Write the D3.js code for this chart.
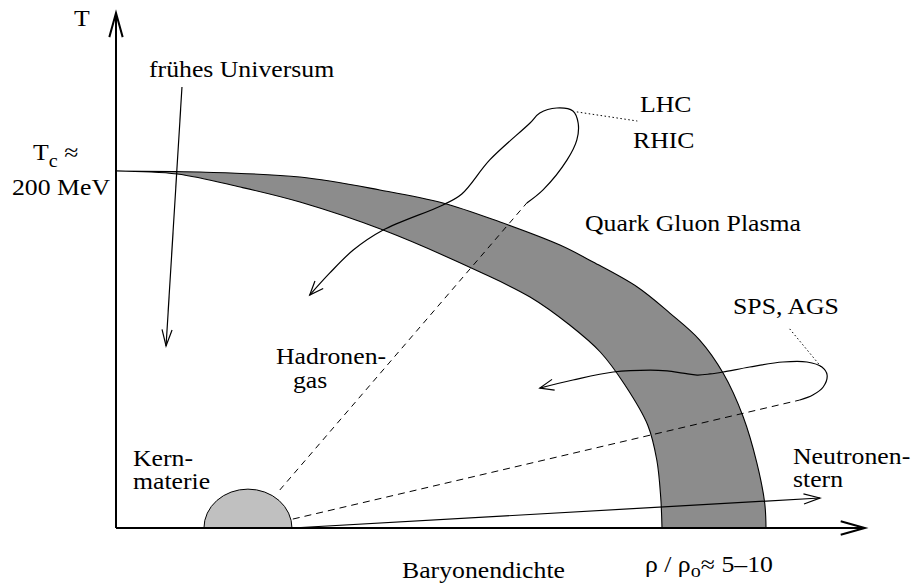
<!DOCTYPE html>
<html>
<head>
<meta charset="utf-8">
<script src="https://cdn.jsdelivr.net/npm/d3@7"></script>
<style>
  body { margin: 0; background: #fff; }
  text { font-family: "Liberation Serif", "Times New Roman", serif; font-size: 23px; fill: #000; }
</style>
</head>
<body>
<div id="chart"></div>
<script>
// ***************************** DATA ******************************************
// points are [rho / rho0 (arbitrary), T in MeV]
var bandUpper = [[0, 200], [1.29, 199.4], [2.83, 196.6], [4.06, 189.4], [5.03, 182.1],
  [5.91, 171.4], [6.83, 158.5], [7.34, 149.0], [8.02, 135.0],
  [8.52, 120.4], [8.98, 105.3], [9.34, 86.8], [9.65, 62.2], [9.86, 36.4],
  [9.98, 14.0], [10.0, 0]];
var bandLower = [[0, 200], [0.94, 198.3], [1.91, 191.0], [2.83, 182.6], [4.11, 166.9],
  [5.60, 143.4], [6.37, 129.4], [6.98, 113.7], [7.45, 98.6], [7.83, 80.1],
  [8.18, 57.7], [8.32, 38.1], [8.38, 17.4], [8.40, 0]];

// RHIC / LHC trajectory (starts where the dashed line ends)
var rhicPath = [[6.32, 182.1], [6.57, 189.4], [6.94, 206.2], [7.09, 217.4], [7.11, 226.9],
  [7.03, 233.6], [6.78, 235.3], [6.52, 232.5], [6.37, 226.9], [5.75, 206.2],
  [5.32, 187.1], [5.03, 181.0], [4.11, 166.9], [3.65, 155.7], [3.29, 142.9], [2.98, 130.5]];
var rhicDash = [[2.52, 21.3], [6.32, 182.1]];

// SPS / AGS trajectory
var spsPath = [[10.52, 71.7], [10.72, 74.5], [10.88, 79.0], [10.94, 85.7], [10.86, 90.2],
  [10.63, 93.0], [10.26, 93.0], [9.75, 90.2], [9.34, 87.4], [9.14, 86.3], [8.94, 85.7],
  [8.72, 86.8], [8.48, 88.0], [8.22, 88.5], [7.65, 87.4], [7.03, 82.9], [6.52, 78.4]];
var spsDash = [[2.72, 5.0], [10.52, 71.7]];

var universeArrow = [[1.015, 247.1], [0.77, 102.0]];
var neutronArrow = [[2.71, 0], [10.83, 16.8]];
var lhcPointer = [[7.09, 233.1], [8.02, 228.0]];
var spsPointer = [[10.85, 90.2], [10.34, 112.6]];

// nuclear matter: centre, half width, height
var kern = {rho: 2.03, halfWidth: 0.677, height: 21.8};

var rhoMax = 11.52, tMax = 288.5, tCrit = 200;

// ************************** CANVAS SET UP ************************************
var svg = d3.select("#chart").append("svg")
  .attr("width", 914)
  .attr("height", 584);

var x = d3.scaleLinear().domain([0, 10]).range([116, 766]);
var y = d3.scaleLinear().domain([0, tCrit]).range([528, 171]);

var smooth = d3.line()
  .x(d => x(d[0]))
  .y(d => y(d[1]))
  .curve(d3.curveCatmullRom.alpha(0.5));
var straight = d3.line().x(d => x(d[0])).y(d => y(d[1]));

// open "V" arrow head at the end of a list of points
function arrowHead(pts, len, half) {
  var a = pts[pts.length - 2], b = pts[pts.length - 1];
  var x1 = x(a[0]), y1 = y(a[1]), x2 = x(b[0]), y2 = y(b[1]);
  var ang = Math.atan2(y2 - y1, x2 - x1);
  var p = [];
  [-1, 1].forEach(function(s) {
    p.push([x2 - len * Math.cos(ang + s * half), y2 - len * Math.sin(ang + s * half)]);
  });
  return "M" + p[0] + "L" + x2 + "," + y2 + "L" + p[1];
}

// ******************************** BAND ***************************************
var lowerD = smooth(bandLower.slice().reverse()).replace(/^M/, "L");
svg.append("path")
  .attr("d", smooth(bandUpper) + lowerD + "Z")
  .attr("fill", "#8c8c8c")
  .attr("stroke", "#000")
  .attr("stroke-width", 1.1);

// nuclear matter half disc
var kx0 = x(kern.rho - kern.halfWidth), kx1 = x(kern.rho + kern.halfWidth);
var krx = (kx1 - kx0) / 2, kry = y(0) - y(kern.height);
svg.append("path")
  .attr("d", `M${kx0},${y(0)} A${krx},${kry} 0 0 1 ${kx1},${y(0)} Z`)
  .attr("fill", "#c0c0c0")
  .attr("stroke", "#000")
  .attr("stroke-width", 1);

// ****************************** LINES ****************************************
svg.append("path").attr("d", straight(rhicDash))
  .attr("fill", "none").attr("stroke", "#000").attr("stroke-width", 1)
  .attr("stroke-dasharray", "6,5");
svg.append("path").attr("d", straight(spsDash))
  .attr("fill", "none").attr("stroke", "#000").attr("stroke-width", 1)
  .attr("stroke-dasharray", "7,5");

[rhicPath, spsPath].forEach(function(pts) {
  svg.append("path").attr("d", smooth(pts))
    .attr("fill", "none").attr("stroke", "#000").attr("stroke-width", 1.2);
  svg.append("path").attr("d", arrowHead(pts, 15, 0.38))
    .attr("fill", "none").attr("stroke", "#000").attr("stroke-width", 1.2);
});

[universeArrow, neutronArrow].forEach(function(pts) {
  svg.append("path").attr("d", straight(pts))
    .attr("fill", "none").attr("stroke", "#000").attr("stroke-width", 1.2);
  svg.append("path").attr("d", arrowHead(pts, 17, 0.3))
    .attr("fill", "none").attr("stroke", "#000").attr("stroke-width", 1.2);
});

[lhcPointer, spsPointer].forEach(function(pts) {
  svg.append("path").attr("d", straight(pts))
    .attr("fill", "none").attr("stroke", "#000").attr("stroke-width", 1)
    .attr("stroke-dasharray", "1.5,2.5");
});

// ******************************** AXES ***************************************
var yAxisPts = [[0, 0], [0, tMax]];
var xAxisPts = [[0, 0], [rhoMax, 0]];
[yAxisPts, xAxisPts].forEach(function(pts) {
  svg.append("path").attr("d", straight(pts))
    .attr("fill", "none").attr("stroke", "#000").attr("stroke-width", 2);
  svg.append("path").attr("d", arrowHead(pts, 25, 0.27))
    .attr("fill", "none").attr("stroke", "#000").attr("stroke-width", 2);
});

// ******************************** TEXT ***************************************
function label(px, py) {
  return svg.append("text").attr("transform", `translate(${px},${py}) scale(1.12,1)`);
}

label(74, 26).text("T");
label(149, 77).text("frühes Universum");

var tc = label(33, 160);
tc.append("tspan").text("T");
tc.append("tspan").attr("font-size", 18).attr("dy", 7).text("c");
tc.append("tspan").attr("dy", -7).text(" ≈");
label(12, 195).text("200 MeV");

label(640, 112).text("LHC");
label(633, 148).text("RHIC");
label(585, 231).text("Quark Gluon Plasma");
label(733, 314).text("SPS, AGS");
label(276, 364).text("Hadronen-");
label(293, 388).text("gas");
label(133, 466).text("Kern-");
label(133, 489).text("materie");
label(793, 464).text("Neutronen-");
label(793, 487).text("stern");

var rho = label(645, 572);
rho.append("tspan").text("ρ / ρ");
rho.append("tspan").attr("font-size", 18).attr("dy", 5).text("o");
rho.append("tspan").attr("dy", -5).text("≈ 5–10");
label(402, 578).text("Baryonendichte");
</script>
</body>
</html>
